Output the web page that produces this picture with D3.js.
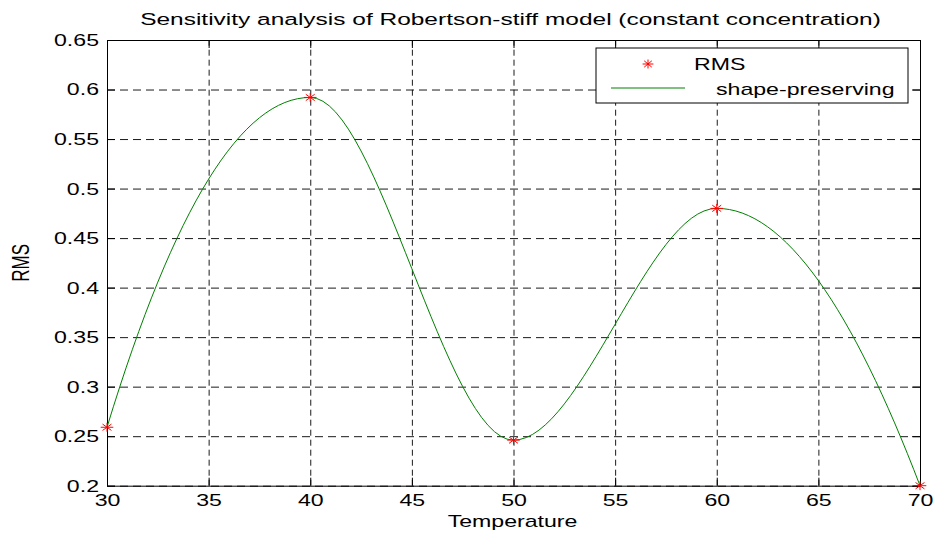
<!DOCTYPE html>
<html lang="en">
<head>
<meta charset="UTF-8">
<title>Sensitivity analysis of Robertson-stiff model</title>
<script src="https://cdn.jsdelivr.net/npm/d3@7"></script>
<style>
  body { margin: 0; background: #fff; }
  svg text { font-family: Helvetica, Arial, "Liberation Sans", sans-serif; font-size: 17px; fill: #000; }
  .axis path, .axis line { stroke: #000; stroke-width: 1; }
  .grid line { stroke: #000; stroke-width: 0.9; }
  .grid path { display: none; }
</style>
</head>
<body>
<svg id="chart"></svg>
<script>
// data
const temperature = [30, 40, 50, 60, 70];
const rms = [0.259, 0.592, 0.246, 0.48, 0.2];
const xTicks = [30, 35, 40, 45, 50, 55, 60, 65, 70];
const yTicks = [0.2, 0.25, 0.3, 0.35, 0.4, 0.45, 0.5, 0.55, 0.6, 0.65];
const titleText = "Sensitivity analysis of Robertson-stiff model (constant concentration)";
const xLabel = "Temperature";
const yLabel = "RMS";
const legendLabels = ["RMS", "shape-preserving"];

const width = 935, height = 534;
const margin = { top: 40, right: 15, bottom: 48.3, left: 107 };
const stretch = 1.36; // the original text is drawn wide

const svg = d3.select("#chart").attr("width", width).attr("height", height);

const x = d3.scaleLinear().domain([30, 70]).range([margin.left, width - margin.right]);
const y = d3.scaleLinear().domain([0.2, 0.65]).range([height - margin.bottom, margin.top]);
const plotW = x.range()[1] - x.range()[0];
const plotH = y.range()[0] - y.range()[1];

// dashed grid
svg.append("g").attr("class", "grid")
  .attr("transform", `translate(0,${y.range()[0]})`)
  .call(d3.axisBottom(x).tickValues(xTicks).tickSize(-plotH).tickFormat(""))
  .selectAll("line").attr("stroke-dasharray", "6,4");
svg.append("g").attr("class", "grid")
  .attr("transform", `translate(${margin.left},0)`)
  .call(d3.axisLeft(y).tickValues(yTicks).tickSize(-plotW).tickFormat(""))
  .selectAll("line").attr("stroke-dasharray", "8,5");

// box with inward ticks on all sides
const fmtY = d => d3.format("")(+d.toFixed(2));
const bottom = svg.append("g").attr("class", "axis")
  .attr("transform", `translate(0,${y.range()[0]})`)
  .call(d3.axisBottom(x).tickValues(xTicks).tickSize(-8).tickSizeOuter(0).tickPadding(8));
const left = svg.append("g").attr("class", "axis")
  .attr("transform", `translate(${margin.left},0)`)
  .call(d3.axisLeft(y).tickValues(yTicks).tickFormat(fmtY).tickSize(-8).tickSizeOuter(0).tickPadding(8 / stretch));
svg.append("g").attr("class", "axis")
  .attr("transform", `translate(0,${y.range()[1]})`)
  .call(d3.axisTop(x).tickValues(xTicks).tickSize(-8).tickSizeOuter(0).tickFormat(""));
svg.append("g").attr("class", "axis")
  .attr("transform", `translate(${x.range()[1]},0)`)
  .call(d3.axisRight(y).tickValues(yTicks).tickSize(-8).tickSizeOuter(0).tickFormat(""));

[bottom, left].forEach(g => {
  g.selectAll("text")
    .attr("fill", "#000")
    .style("font-size", "17px")
    .style("font-family", "Helvetica, Arial, 'Liberation Sans', sans-serif")
    .attr("transform", `scale(${stretch},1)`);
});

// shape-preserving piecewise cubic curve (pchip end slopes)
function pchipCurve(context) {
  let xs, ys;
  return {
    areaStart() {}, areaEnd() {},
    lineStart() { xs = []; ys = []; },
    point(px, py) { xs.push(+px); ys.push(+py); },
    lineEnd() {
      const n = xs.length;
      if (n < 2) return;
      const h = [], d = [];
      for (let i = 0; i < n - 1; i++) {
        h.push(xs[i + 1] - xs[i]);
        d.push((ys[i + 1] - ys[i]) / h[i]);
      }
      const m = new Array(n).fill(0);
      for (let k = 1; k < n - 1; k++) {
        if (d[k - 1] * d[k] > 0) {
          const w1 = 2 * h[k] + h[k - 1], w2 = h[k] + 2 * h[k - 1];
          m[k] = (w1 + w2) / (w1 / d[k - 1] + w2 / d[k]);
        }
      }
      const endSlope = (h0, h1, d0, d1) => {
        let s = ((2 * h0 + h1) * d0 - h0 * d1) / (h0 + h1);
        if (Math.sign(s) !== Math.sign(d0)) s = 0;
        else if (Math.sign(d0) !== Math.sign(d1) && Math.abs(s) > Math.abs(3 * d0)) s = 3 * d0;
        return s;
      };
      if (n > 2) {
        m[0] = endSlope(h[0], h[1], d[0], d[1]);
        m[n - 1] = endSlope(h[n - 2], h[n - 3], d[n - 2], d[n - 3]);
      } else {
        m[0] = m[1] = d[0];
      }
      context.moveTo(xs[0], ys[0]);
      for (let i = 0; i < n - 1; i++) {
        const t = h[i] / 3;
        context.bezierCurveTo(xs[i] + t, ys[i] + m[i] * t, xs[i + 1] - t, ys[i + 1] - m[i + 1] * t, xs[i + 1], ys[i + 1]);
      }
    }
  };
}

const pts = temperature.map((t, i) => ({ t, v: rms[i] }));

svg.append("path")
  .datum(pts)
  .attr("fill", "none")
  .attr("stroke", "#008000")
  .attr("stroke-width", 1)
  .attr("d", d3.line().x(d => x(d.t)).y(d => y(d.v)).curve(pchipCurve));

// MATLAB style asterisk: plus and cross
const asterisk = {
  draw(ctx, size) {
    const r = Math.sqrt(size) / 2;
    const q = r / Math.SQRT2;
    ctx.moveTo(-r, 0); ctx.lineTo(r, 0);
    ctx.moveTo(0, -r); ctx.lineTo(0, r);
    ctx.moveTo(-q, -q); ctx.lineTo(q, q);
    ctx.moveTo(-q, q); ctx.lineTo(q, -q);
  }
};
const star = d3.symbol().type(asterisk).size(81);

svg.append("g").selectAll("path")
  .data(pts)
  .join("path")
  .attr("d", star)
  .attr("transform", d => `translate(${x(d.t)},${y(d.v)}) scale(1.4,1)`)
  .attr("fill", "none")
  .attr("stroke", "#ff0000")
  .attr("stroke-width", 1)
  .attr("vector-effect", "non-scaling-stroke");

// legend
const legend = svg.append("g");
legend.append("rect")
  .attr("x", 596).attr("y", 48).attr("width", 312).attr("height", 55)
  .attr("fill", "#fff").attr("stroke", "#000").attr("stroke-width", 1);
legend.append("path")
  .attr("d", star)
  .attr("transform", "translate(648,64) scale(1.2,1)")
  .attr("fill", "none").attr("stroke", "#ff0000").attr("stroke-width", 1)
  .attr("vector-effect", "non-scaling-stroke");
legend.append("text")
  .attr("transform", `translate(694,70) scale(${stretch},1)`)
  .text(legendLabels[0]);
legend.append("line")
  .attr("x1", 611).attr("x2", 685).attr("y1", 88).attr("y2", 88)
  .attr("stroke", "#008000").attr("stroke-width", 1);
legend.append("text")
  .attr("transform", `translate(716,95) scale(${stretch},1)`)
  .text(legendLabels[1]);

// title and axis labels
svg.append("text")
  .attr("transform", `translate(${(x.range()[0] + x.range()[1]) / 2 - 3},25) scale(1.44,1)`)
  .attr("text-anchor", "middle")
  .text(titleText);
svg.append("text")
  .attr("transform", `translate(${(x.range()[0] + x.range()[1]) / 2 - 1},527) scale(${stretch},1)`)
  .attr("text-anchor", "middle")
  .text(xLabel);
svg.append("text")
  .attr("transform", `translate(28.5,${(y.range()[0] + y.range()[1]) / 2}) scale(${stretch},1) rotate(-90)`)
  .attr("text-anchor", "middle")
  .text(yLabel);
</script>
</body>
</html>
